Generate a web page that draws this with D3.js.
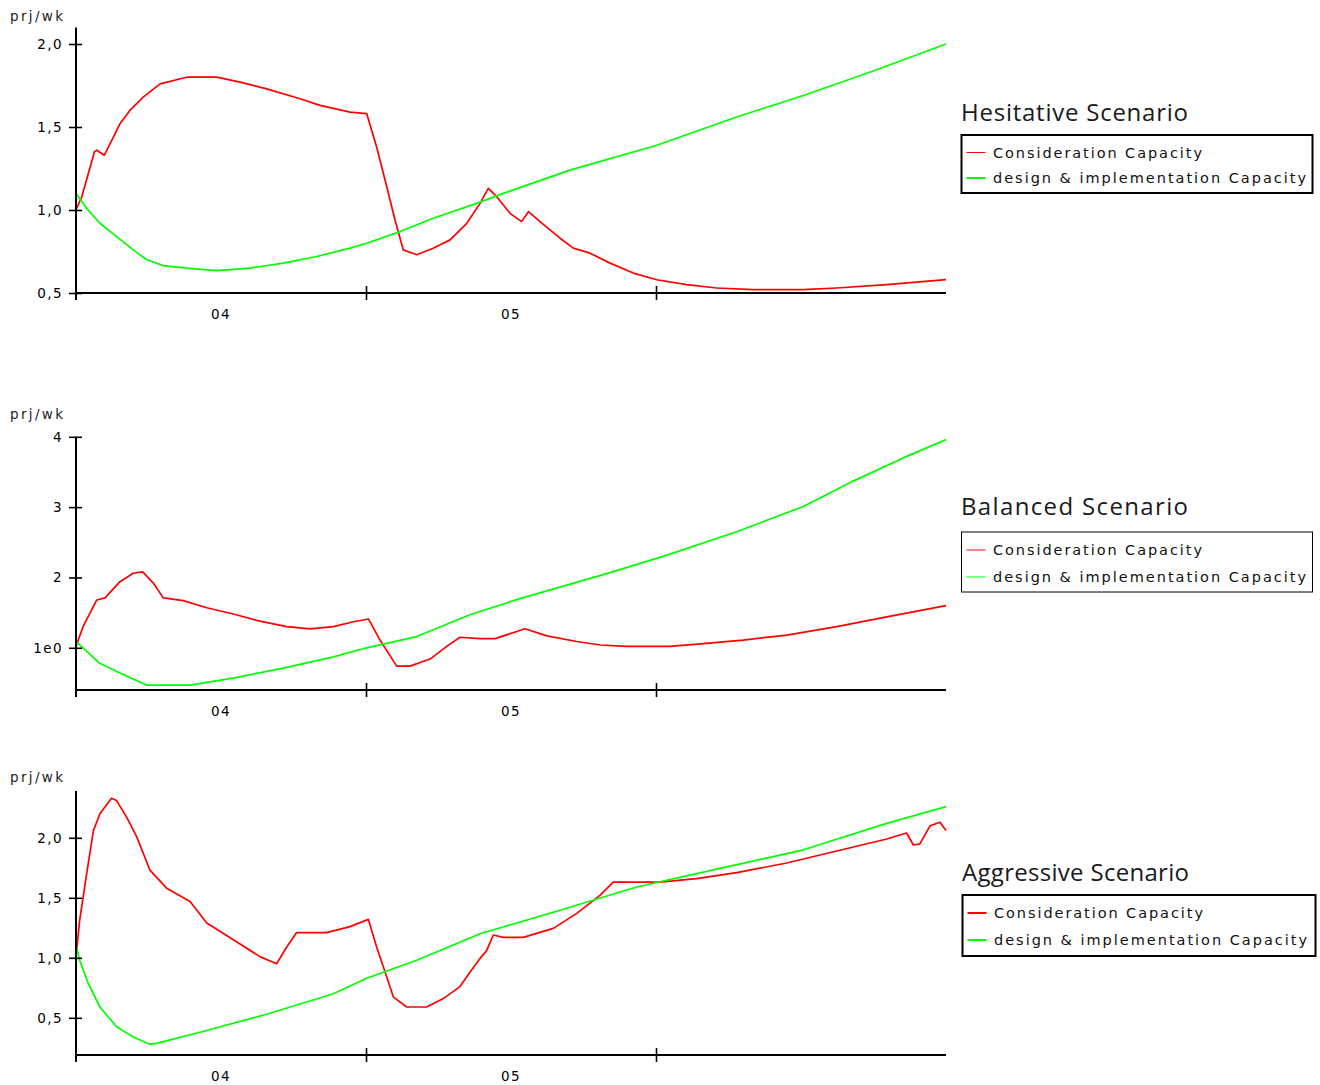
<!DOCTYPE html>
<html>
<head>
<meta charset="utf-8">
<script src="https://cdn.jsdelivr.net/npm/d3@7"></script>
<style>
  body { margin: 0; background: #fff; }
  svg { display: block; }
</style>
</head>
<body>
<svg id="chart" width="1320" height="1085"></svg>
<script>
// ---- data -------------------------------------------------------------
// Each point is [months since Jan 2004, projects per week]
const seriesNames = ["Consideration Capacity", "design & implementation Capacity"];
const seriesColors = ["#ff0000", "#00ff00"];
const unitLabel = "prj/wk";
const yearLabels = ["04", "05"];
const yearLabelMonths = [6, 18];
const yearBoundaryMonths = [12, 24];
const monthDomain = [0, 36];

const hesitativeConsideration = [
  [0, 1.00], [0.24, 1.08], [0.76, 1.35], [0.86, 1.36], [1.17, 1.33], [1.48, 1.42],
  [1.82, 1.52], [2.23, 1.60], [2.78, 1.68], [3.48, 1.76], [4.58, 1.80], [5.82, 1.80],
  [6.79, 1.77], [7.89, 1.73], [9.27, 1.67], [10.10, 1.63], [11.34, 1.59], [12.03, 1.58],
  [12.44, 1.38], [12.86, 1.14], [13.20, 0.94], [13.54, 0.76], [14.10, 0.73], [14.78, 0.77],
  [15.48, 0.82], [16.17, 0.92], [16.72, 1.04], [17.06, 1.13], [17.41, 1.08], [17.96, 0.98],
  [18.44, 0.93], [18.72, 0.99], [19.20, 0.93], [20.03, 0.83], [20.58, 0.77], [21.27, 0.74],
  [22.10, 0.68], [23.06, 0.62], [24.03, 0.58], [25.27, 0.55], [26.51, 0.53], [28.03, 0.52],
  [30.10, 0.52], [31.48, 0.53], [33.55, 0.55], [36.0, 0.58]
];
const hesitativeDesign = [
  [0, 1.10], [0.44, 1.01], [0.99, 0.92], [1.68, 0.84], [2.37, 0.76], [2.93, 0.70],
  [3.61, 0.665], [4.58, 0.65], [5.82, 0.635], [7.20, 0.65], [8.58, 0.68], [9.96, 0.72],
  [11.34, 0.77], [12.03, 0.80], [13.41, 0.87], [14.78, 0.95], [16.58, 1.04], [17.68, 1.10],
  [20.44, 1.24], [24.03, 1.39], [27.34, 1.56], [30.10, 1.69], [32.85, 1.83], [36.0, 2.00]
];

const balancedConsideration = [
  [0, 1.02], [0.29, 1.30], [0.86, 1.68], [1.20, 1.71], [1.82, 1.94], [2.37, 2.06],
  [2.76, 2.08], [3.20, 1.92], [3.61, 1.71], [4.44, 1.67], [5.41, 1.57], [6.51, 1.48],
  [7.61, 1.38], [8.72, 1.30], [9.68, 1.27], [10.65, 1.30], [11.48, 1.37], [12.10, 1.41],
  [12.58, 1.11], [13.27, 0.74], [13.82, 0.74], [14.65, 0.84], [15.34, 1.02], [15.89, 1.15],
  [16.72, 1.13], [17.34, 1.13], [18.58, 1.27], [19.48, 1.17], [20.72, 1.09], [21.69, 1.04],
  [22.79, 1.02], [24.58, 1.02], [25.96, 1.06], [27.61, 1.11], [29.41, 1.18], [31.48, 1.30],
  [33.55, 1.44], [36.0, 1.60]
];
const balancedDesign = [
  [0, 1.09], [0.98, 0.78], [1.95, 0.62], [2.92, 0.47], [4.72, 0.47], [6.51, 0.57],
  [8.58, 0.71], [10.65, 0.87], [12.03, 1.00], [14.10, 1.16], [16.30, 1.47], [18.37, 1.70],
  [21.82, 2.04], [24.30, 2.30], [27.34, 2.65], [30.10, 3.01], [32.16, 3.37], [34.23, 3.70],
  [36.0, 3.96]
];

const aggressiveConsideration = [
  [0, 1.01], [0.15, 1.31], [0.44, 1.70], [0.72, 2.06], [0.99, 2.20], [1.47, 2.33],
  [1.68, 2.31], [2.10, 2.17], [2.51, 2.01], [3.06, 1.73], [3.75, 1.58], [4.72, 1.47],
  [5.41, 1.29], [6.51, 1.15], [7.61, 1.01], [8.30, 0.95], [8.72, 1.09], [9.13, 1.21],
  [10.37, 1.21], [11.34, 1.26], [12.10, 1.32], [12.44, 1.09], [12.86, 0.84], [13.13, 0.675],
  [13.68, 0.59], [14.51, 0.59], [15.20, 0.66], [15.89, 0.76], [16.30, 0.88], [16.72, 0.995],
  [16.99, 1.06], [17.27, 1.19], [17.68, 1.17], [18.51, 1.17], [19.75, 1.245], [20.72, 1.37],
  [21.68, 1.52], [22.23, 1.63], [24.16, 1.63], [25.68, 1.66], [27.34, 1.71], [29.41, 1.79],
  [31.48, 1.89], [33.55, 1.99], [34.37, 2.04], [34.65, 1.94], [34.92, 1.95], [35.34, 2.10],
  [35.75, 2.13], [36.0, 2.06]
];
const aggressiveDesign = [
  [0, 1.11], [0.15, 0.98], [0.50, 0.79], [0.99, 0.59], [1.68, 0.425], [2.37, 0.34],
  [3.06, 0.28], [3.33, 0.287], [5.13, 0.38], [7.89, 0.53], [10.65, 0.70], [12.03, 0.83],
  [14.10, 0.98], [16.72, 1.20], [19.75, 1.38], [23.20, 1.59], [26.65, 1.745], [30.10, 1.90],
  [33.55, 2.12], [36.0, 2.26]
];

const hesitativeTicks = [0.5, 1.0, 1.5, 2.0];
const hesitativeTickLabels = ["0,5", "1,0", "1,5", "2,0"];
const balancedTicks = [1, 2, 3, 4];
const balancedTickLabels = ["1e0", "2", "3", "4"];
const aggressiveTicks = [0.5, 1.0, 1.5, 2.0];
const aggressiveTickLabels = ["0,5", "1,0", "1,5", "2,0"];

// ---- layout ------------------------------------------------------------
const plotLeft = 76, plotRight = 946;
const panels = [
  {
    title: "Hesitative Scenario",
    series: [hesitativeConsideration, hesitativeDesign],
    ticks: hesitativeTicks, tickLabels: hesitativeTickLabels,
    yDomain: [0.5, 2.1], yRange: [293, 27.4],
    unitY: 21,
    titleX: 961, titleY: 120.5,
    box: { x: 961.5, y: 135, w: 351, h: 58, stroke: 2 },
    rowY: [152.5, 178], sampleWidth: [1, 2]
  },
  {
    title: "Balanced Scenario",
    series: [balancedConsideration, balancedDesign],
    ticks: balancedTicks, tickLabels: balancedTickLabels,
    yDomain: [0.4, 4.0], yRange: [690, 436.8],
    unitY: 419,
    titleX: 961, titleY: 515,
    box: { x: 961.5, y: 532, w: 351, h: 60, stroke: 1 },
    rowY: [550, 577], sampleWidth: [1, 1]
  },
  {
    title: "Aggressive Scenario",
    series: [aggressiveConsideration, aggressiveDesign],
    ticks: aggressiveTicks, tickLabels: aggressiveTickLabels,
    yDomain: [0.19, 2.39], yRange: [1055, 791],
    unitY: 782,
    titleX: 962, titleY: 881,
    box: { x: 962.5, y: 895, w: 353, h: 61, stroke: 2 },
    rowY: [913, 940], sampleWidth: [2, 2]
  }
];

const svg = d3.select("#chart");
const x = d3.scaleLinear().domain(monthDomain).range([plotLeft, plotRight]);

const tickFont = "'DejaVu Sans', Verdana, sans-serif";

panels.forEach(p => {
  const g = svg.append("g");
  const y = d3.scaleLinear().domain(p.yDomain).range(p.yRange);
  const axisY = p.yRange[0];

  // series lines
  const line = d3.line().x(d => x(d[0])).y(d => y(d[1]));
  p.series.forEach((data, i) => {
    g.append("path")
      .datum(data)
      .attr("d", line)
      .attr("fill", "none")
      .attr("stroke", seriesColors[i])
      .attr("stroke-width", 1.7)
      .attr("stroke-linejoin", "round");
  });

  // y axis: ticks cross the axis line
  const yAxisG = g.append("g")
    .attr("transform", `translate(${plotLeft},0)`)
    .call(d3.axisLeft(y)
      .tickValues(p.ticks)
      .tickFormat((d, i) => p.tickLabels[i])
      .tickSize(7)
      .tickPadding(6));
  yAxisG.select(".domain").remove();
  yAxisG.selectAll(".tick line").attr("x1", 6).attr("stroke", "#000").attr("stroke-width", 1.6);
  yAxisG.selectAll(".tick text")
    .attr("x", -13)
    .attr("fill", "#000")
    .style("font-family", tickFont)
    .style("font-size", "13.5px")
    .style("letter-spacing", "1.4px");

  // x axis: year boundaries
  const xAxisG = g.append("g")
    .attr("transform", `translate(0,${axisY})`)
    .call(d3.axisBottom(x).tickValues(yearBoundaryMonths).tickSize(7).tickFormat(""));
  xAxisG.select(".domain").remove();
  xAxisG.selectAll(".tick line").attr("y1", -7).attr("stroke", "#000").attr("stroke-width", 1.6);

  // axis lines
  g.append("line")
    .attr("x1", plotLeft).attr("x2", plotLeft)
    .attr("y1", p.yRange[1]).attr("y2", axisY + 7)
    .attr("stroke", "#000").attr("stroke-width", 2);
  g.append("line")
    .attr("x1", plotLeft).attr("x2", plotRight)
    .attr("y1", axisY).attr("y2", axisY)
    .attr("stroke", "#000").attr("stroke-width", 2);

  // year labels centred in each year
  g.selectAll(".year")
    .data(yearLabels)
    .join("text")
    .attr("x", (d, i) => x(yearLabelMonths[i]))
    .attr("y", axisY + 26)
    .attr("text-anchor", "middle")
    .attr("fill", "#000")
    .style("font-family", tickFont)
    .style("font-size", "13.5px")
    .style("letter-spacing", "1.4px")
    .text(d => d);

  // unit label
  g.append("text")
    .attr("x", 10).attr("y", p.unitY)
    .attr("fill", "#222")
    .style("font-family", tickFont)
    .style("font-size", "13.5px")
    .attr("textLength", 53).attr("lengthAdjust", "spacing")
    .text(unitLabel);

  // scenario title
  g.append("text")
    .attr("x", p.titleX).attr("y", p.titleY)
    .attr("fill", "#1a1a1a")
    .style("font-family", "'Open Sans', 'Noto Sans', sans-serif")
    .style("font-size", "24px")
    .attr("textLength", 227).attr("lengthAdjust", "spacing")
    .text(p.title);

  // legend
  const b = p.box;
  g.append("rect")
    .attr("x", b.x).attr("y", b.y).attr("width", b.w).attr("height", b.h)
    .attr("fill", "#fff").attr("stroke", "#000").attr("stroke-width", b.stroke);
  seriesNames.forEach((name, i) => {
    g.append("line")
      .attr("x1", b.x + 5).attr("x2", b.x + 24)
      .attr("y1", p.rowY[i]).attr("y2", p.rowY[i])
      .attr("stroke", seriesColors[i]).attr("stroke-width", p.sampleWidth[i]);
    g.append("text")
      .attr("x", b.x + 31.5).attr("y", p.rowY[i])
      .attr("dy", "0.36em")
      .attr("fill", "#111")
      .style("font-family", tickFont)
      .style("font-size", "14.5px")
      .attr("textLength", i === 0 ? 209 : 313).attr("lengthAdjust", "spacing")
      .text(name);
  });
});
</script>
</body>
</html>
